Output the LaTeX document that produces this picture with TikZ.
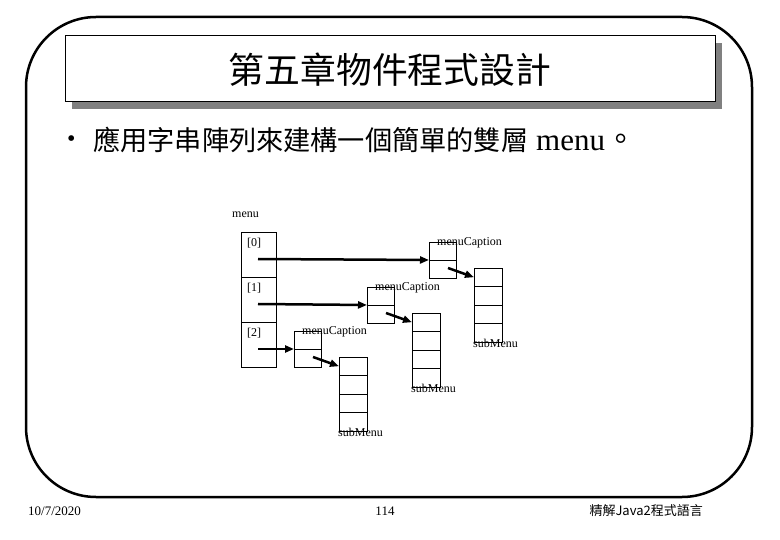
\documentclass[tikz,border=0pt]{standalone}
\usepackage{fontspec}
\setmainfont{Liberation Serif}
\newfontfamily\cjk{Noto Sans CJK TC}
\usetikzlibrary{arrows.meta,positioning,calc}

\begin{document}
\begin{tikzpicture}[x=1pt,y=-1pt,
    cell/.style={draw,line width=0.8pt,inner sep=0pt,outer sep=0pt},
    lbl/.style={font=\fontsize{12}{14}\selectfont,inner sep=0pt},
    ptr/.style={line width=2.5pt,-{Triangle[length=9pt,width=7pt]}},
    foot/.style={font=\fontsize{13}{15}\selectfont,inner sep=0pt}]
    \useasboundingbox (0,0) rectangle (780,540);

    % Slide frame
    \draw[line width=2.5pt,rounded corners=70pt] (26,17) rectangle (752,497);

    % Title box with shadow
    \fill[black!50] (72,43) rectangle (722,109);
    \draw[fill=white,line width=1pt] (65,36) rectangle (715,102);
    \node (title) at (390,70) {\fontsize{35.8}{40}\selectfont\cjk 第五章物件程式設計};

    % Bullet line
    \node[anchor=west,inner sep=0pt] (dot) at (67,141) {\fontsize{24}{28}\selectfont\textbullet};
    \node[anchor=west,inner sep=0pt] (bullet) at (93,140)
        {\fontsize{27.2}{32}\selectfont{\cjk 應用字串陣列來建構一個簡單的雙層}\fontsize{31}{32}\selectfont\ menu{\cjk 。}};

    % Array menu
    \node[lbl,anchor=west] (menulbl) at (232,215) {menu};
    \node[cell,minimum width=35pt,minimum height=45pt,anchor=north west] (cell0) at (241,232) {};
    \node[cell,minimum width=35pt,minimum height=45pt,below=0pt of cell0] (cell1) {};
    \node[cell,minimum width=35pt,minimum height=45pt,below=0pt of cell1] (cell2) {};
    \foreach \k in {0,1,2} {
        \node[lbl] (idx\k) at ($(cell\k.north west)+(13,11)$) {[\k]};
    }

    % Caption boxes and submenu arrays
    \foreach \i/\cx/\cy in {0/429/242, 1/367/287, 2/294/331} {
        \node[cell,minimum width=27pt,minimum height=18pt,anchor=north west] (cap\i t) at (\cx,\cy) {};
        \node[cell,minimum width=27pt,minimum height=18pt,below=0pt of cap\i t] (cap\i b) {};
        \node[lbl,anchor=west] (caplbl\i) at (\cx+8,\cy+1) {menuCaption};

        \node[cell,minimum width=28pt,minimum height=18.5pt,anchor=north west] (sub\i a) at (\cx+45,\cy+26) {};
        \node[cell,minimum width=28pt,minimum height=18.5pt,below=0pt of sub\i a] (sub\i b) {};
        \node[cell,minimum width=28pt,minimum height=18.5pt,below=0pt of sub\i b] (sub\i c) {};
        \node[cell,minimum width=28pt,minimum height=18.5pt,below=0pt of sub\i c] (sub\i d) {};
        \node[lbl,anchor=west] (sublbl\i) at ($(sub\i d.south west)+(-1,1)$) {subMenu};

        % Pointers
        \coordinate (from\i) at ($(cell\i.west)+(17,4.5)$);
        \draw[ptr] (from\i) -- (cap\i t.south west);
        \coordinate (capin\i) at ($(cap\i b.west)+(19,-1)$);
        \draw[ptr] (capin\i) -- (sub\i a.west);
    }

    % Footer
    \node[foot,anchor=west] (date) at (28,511) {10/7/2020};
    \node[foot] (page) at (385,511) {114};
    \node[foot,anchor=east] (book) at (703,511) {\cjk 精解Java2程式語言};
\end{tikzpicture}
\end{document}
